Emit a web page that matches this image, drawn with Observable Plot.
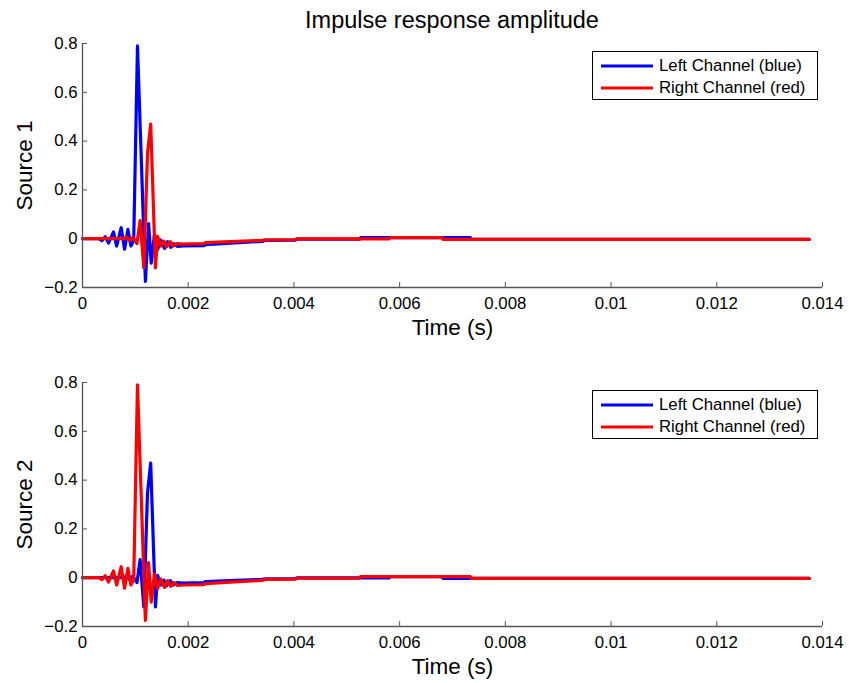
<!DOCTYPE html>
<html>
<head>
<meta charset="utf-8">
<script src="https://cdn.jsdelivr.net/npm/d3@7"></script>
<script src="https://cdn.jsdelivr.net/npm/@observablehq/plot@0.6"></script>
<style>
  body { margin: 0; background: white; font-family: "Liberation Sans", Arial, sans-serif; }
  #wrap { width: 849px; position: relative; }
  #title { height: 33px; line-height: 40px; font-size: 23.5px; text-align: center; margin-left: 55px; color: #000; }
  .panel { position: relative; }
  .legend { position: absolute; left: 592px; width: 224px; height: 47px; border: 1px solid #000; background: #fff; font-size: 16.8px; }
  .legend .row { position: absolute; left: 0; height: 20px; display: flex; align-items: center; }
  .legend svg { margin-left: 8px; margin-right: 6px; }
</style>
</head>
<body>
<div id="wrap">
  <div id="title"></div>
</div>
<script>
// ---- data ----
const titleText = "Impulse response amplitude";
const sourceLabels = ["Source 1", "Source 2"];
const channelLabels = ["Left Channel (blue)", "Right Channel (red)"];
const xLabel = "Time (s)";
const xDomain = [0, 0.014];
const yDomain = [-0.2, 0.8];
const xTicks = [0, 0.002, 0.004, 0.006, 0.008, 0.01, 0.012, 0.014];
const yTicks = [-0.2, 0, 0.2, 0.4, 0.6, 0.8];

// near-ear (direct) response: times (s) and amplitudes
const nearT = [0, 0.000303, 0.000367, 0.000429, 0.000492, 0.000586, 0.000645, 0.000732, 0.000795, 0.000859, 0.000916, 0.000969,
  0.00104, 0.00119, 0.00125, 0.00130, 0.00136, 0.00142, 0.00148, 0.00155, 0.00161, 0.00167, 0.00173, 0.00180, 0.00190,
  0.00230, 0.00232, 0.00280, 0.00340, 0.00345, 0.00403, 0.00405, 0.00524, 0.00526, 0.00734, 0.00736, 0.01375];
const nearV = [0, 0, -0.008, 0.008, -0.018, 0.028, -0.03, 0.045, -0.043, 0.038, -0.03, -0.006,
  0.79, -0.175, 0.062, -0.1, 0.015, -0.045, -0.005, -0.04, -0.012, -0.035, -0.02, -0.032, -0.03,
  -0.028, -0.024, -0.018, -0.011, -0.007, -0.006, -0.002, -0.002, 0.004, 0.004, -0.003, -0.003];

// far-ear (delayed) response
const farT = [0, 0.00078, 0.00083, 0.00089, 0.00095, 0.00103, 0.00109, 0.00116, 0.00123, 0.00129, 0.00138, 0.00142,
  0.00148, 0.00154, 0.00159, 0.00166, 0.00172, 0.00179, 0.00190, 0.00230, 0.00232, 0.00280, 0.00340, 0.00345, 0.00403,
  0.00405, 0.00580, 0.00582, 0.00680, 0.00682, 0.01375];
const farV = [0, 0, 0.006, -0.008, 0.006, -0.02, 0.074, -0.12, 0.35, 0.47, -0.12, 0.01,
  -0.03, -0.01, -0.033, -0.012, -0.03, -0.02, -0.022, -0.02, -0.016, -0.012, -0.007, -0.005, -0.004,
  -0.001, -0.001, 0.004, 0.004, -0.003, -0.003];

const nearData = nearT.map((t, i) => ({t, v: nearV[i]}));
const farData = farT.map((t, i) => ({t, v: farV[i]}));
// Source 1: left = near, right = far; Source 2: left = far, right = near
const panels = [
  {label: sourceLabels[0], left: nearData, right: farData},
  {label: sourceLabels[1], left: farData, right: nearData}
];

const fmtX = d => String(+d.toFixed(6));
const fmtY = d => String(+d.toFixed(3)).replace("-", "\u2212");
const axisGray = "#555";

document.getElementById("title").textContent = titleText;
const wrap = document.getElementById("wrap");

panels.forEach((p, idx) => {
  const marginTop = idx === 0 ? 10 : 42;
  const marginBottom = 53;
  const chart = Plot.plot({
    width: 849,
    height: marginTop + 244 + marginBottom,
    marginLeft: 82, marginRight: 27, marginTop, marginBottom,
    x: {domain: xDomain},
    y: {domain: yDomain},
    style: {fontFamily: '"Liberation Sans", Arial, sans-serif', fontSize: "16.8px", background: "white", color: "black", overflow: "visible"},
    marks: [
      Plot.line(p.left, {x: "t", y: "v", stroke: "#0000ff", strokeWidth: 3.2, strokeLinejoin: "round"}),
      Plot.line(p.right, {x: "t", y: "v", stroke: "#ff0000", strokeWidth: 3.2, strokeLinejoin: "round"}),
      Plot.ruleY([yDomain[0]], {stroke: axisGray, strokeWidth: 1.3}),
      Plot.ruleX([xDomain[0]], {stroke: axisGray, strokeWidth: 1.3}),
      Plot.axisX({ticks: xTicks, tickSize: -5, tickFormat: () => "", stroke: axisGray, label: null}),
      Plot.axisY({ticks: yTicks, tickSize: -5, tickFormat: () => "", stroke: axisGray, label: null}),
      Plot.axisX({ticks: xTicks, tickSize: 0, tickPadding: 10, tickFormat: fmtX, fill: "black", label: null}),
      Plot.axisY({ticks: yTicks, tickSize: 0, tickPadding: 5, tickFormat: fmtY, fill: "black", label: null}),
      Plot.text([xLabel], {frameAnchor: "bottom", lineAnchor: "middle", dy: 40, fontSize: 22.5, fill: "black"}),
      Plot.text([p.label], {frameAnchor: "left", textAnchor: "middle", lineAnchor: "middle", dx: -58, rotate: -90, fontSize: 22.5, fill: "black"})
    ]
  });
  const div = document.createElement("div");
  div.className = "panel";
  div.appendChild(chart);
  const leg = document.createElement("div");
  leg.className = "legend";
  leg.style.top = (marginTop + 8) + "px";
  const colors = ["#0000ff", "#ff0000"];
  channelLabels.forEach((lab, j) => {
    const row = document.createElement("div");
    row.className = "row";
    row.style.top = (j === 0 ? 4 : 26) + "px";
    row.innerHTML = `<svg width="52" height="6"><line x1="0" x2="52" y1="3" y2="3" stroke="${colors[j]}" stroke-width="3.2"/></svg><span>${lab}</span>`;
    leg.appendChild(row);
  });
  div.appendChild(leg);
  wrap.appendChild(div);
});
</script>
</body>
</html>
